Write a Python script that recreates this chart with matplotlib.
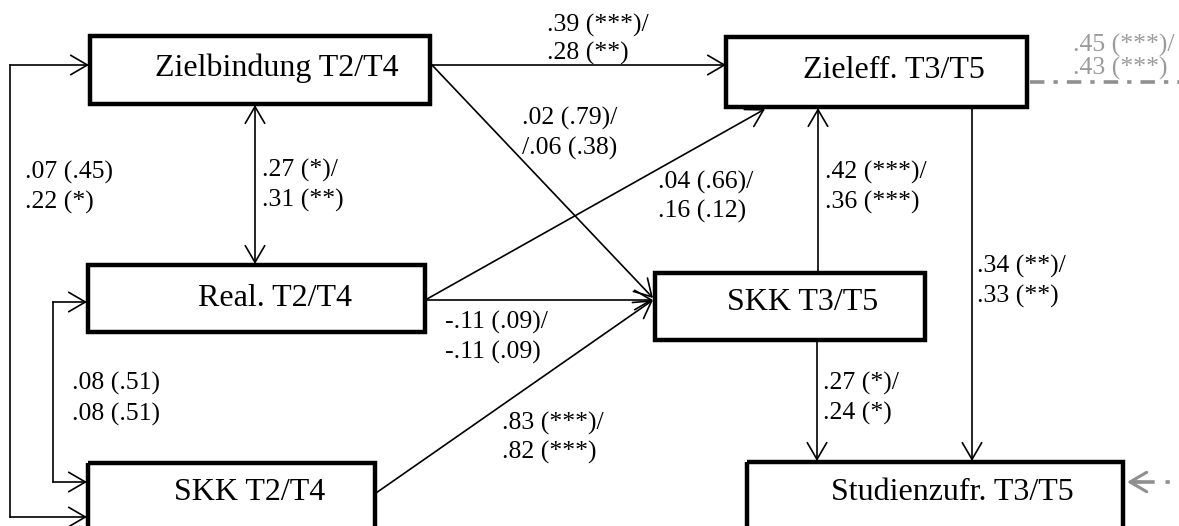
import matplotlib.pyplot as plt
from matplotlib.patches import Rectangle

plt.rcParams['font.family'] = ['Liberation Serif', 'DejaVu Serif']

# variables of the path model
nodes = ['Zielbindung T2/T4', 'Real. T2/T4', 'SKK T2/T4',
         'Zieleff. T3/T5', 'SKK T3/T5', 'Studienzufr. T3/T5']

# path coefficients (p values), sample 1 / sample 2
coef_labels = [
    ['.39 (***)/', '.28 (**)'],
    ['.02 (.79)/', '/.06 (.38)'],
    ['.27 (*)/', '.31 (**)'],
    ['.07 (.45)', '.22 (*)'],
    ['.04 (.66)/', '.16 (.12)'],
    ['.42 (***)/', '.36 (***)'],
    ['.34 (**)/', '.33 (**)'],
    ['-.11 (.09)/', '-.11 (.09)'],
    ['.08 (.51)', '.08 (.51)'],
    ['.83 (***)/', '.82 (***)'],
    ['.27 (*)/', '.24 (*)'],
]
r2_labels = ['.45 (***)/', '.43 (***)']

# layout in pixels: box (x0, y0, x1, y1) and text centre
boxes = {
    'Zielbindung T2/T4': ((90, 36, 430, 104), (277, 68)),
    'Real. T2/T4': ((88, 265, 425, 332), (275, 298)),
    'SKK T2/T4': ((88, 463, 375, 600), (250, 492)),
    'Zieleff. T3/T5': ((726, 37, 1027, 107), (894, 70)),
    'SKK T3/T5': ((655, 273, 925, 340), (803, 303)),
    'Studienzufr. T3/T5': ((747, 462, 1123, 600), (952, 492)),
}
label_pos = [(547, 25, 53), (522, 118, 148), (262, 170, 200), (25, 172, 202),
             (658, 182, 211), (825, 172, 202), (977, 266, 296), (445, 322, 352),
             (72, 383, 414), (502, 423, 452), (823, 383, 413)]

fig = plt.figure(figsize=(11.79, 5.26), dpi=100)
ax = fig.add_axes([0, 0, 1, 1])
ax.set_xlim(0, 1179)
ax.set_ylim(526, 0)
ax.axis('off')

for name in nodes:
    (x0, y0, x1, y1), (tx, ty) = boxes[name]
    ax.add_patch(Rectangle((x0, y0), x1 - x0, y1 - y0, fill=False, lw=3.2,
                           ec='black', joinstyle='miter'))
    ax.text(tx, ty, name, fontsize=23, ha='center', va='center')


def arrow(p0, p1, style='->', color='black', lw=1.2):
    ax.annotate('', xy=p1, xytext=p0,
                arrowprops=dict(arrowstyle=style + ',head_length=0.6,head_width=0.35',
                                color=color, lw=lw, shrinkA=0, shrinkB=0,
                                mutation_scale=20))


# directed paths
arrow((432, 65), (726, 65))
arrow((432, 65), (653, 298))
arrow((427, 299), (765, 109))
arrow((427, 300), (653, 300))
arrow((376, 493), (653, 300))
arrow((818, 273), (818, 108))
arrow((817, 340), (817, 461))
arrow((972, 107), (972, 461))

# correlations
arrow((255, 105), (255, 264), '<->')
ax.plot([10, 10], [65, 517], color='black', lw=1.2)
arrow((10, 65), (89, 65))
arrow((10, 517), (87, 517))
ax.plot([53, 53], [302, 482], color='black', lw=1.2)
arrow((53, 302), (87, 302))
arrow((53, 482), (87, 482))

for (a, b), (x, y1, y2) in zip(coef_labels, label_pos):
    ax.text(x, y1, a, fontsize=18.5, ha='left', va='center')
    ax.text(x, y2, b, fontsize=18.5, ha='left', va='center')

# links to the rest of the model
gray = '#8f8f8f'
ax.plot([1030, 1179], [82, 82], color=gray, lw=2.6, dashes=[4, 2.5, 1.2, 2.5])
ax.text(1073, 45, r2_labels[0], fontsize=18.5, color='#9a9a9a', ha='left', va='center')
ax.text(1073, 68, r2_labels[1], fontsize=18.5, color='#9a9a9a', ha='left', va='center')
ax.plot([1133, 1179], [482, 482], color=gray, lw=2.6, dashes=[6, 3, 1.2, 3])
arrow((1140, 482), (1127, 482), color=gray, lw=2.2)

fig.savefig('out.png', dpi=100)
